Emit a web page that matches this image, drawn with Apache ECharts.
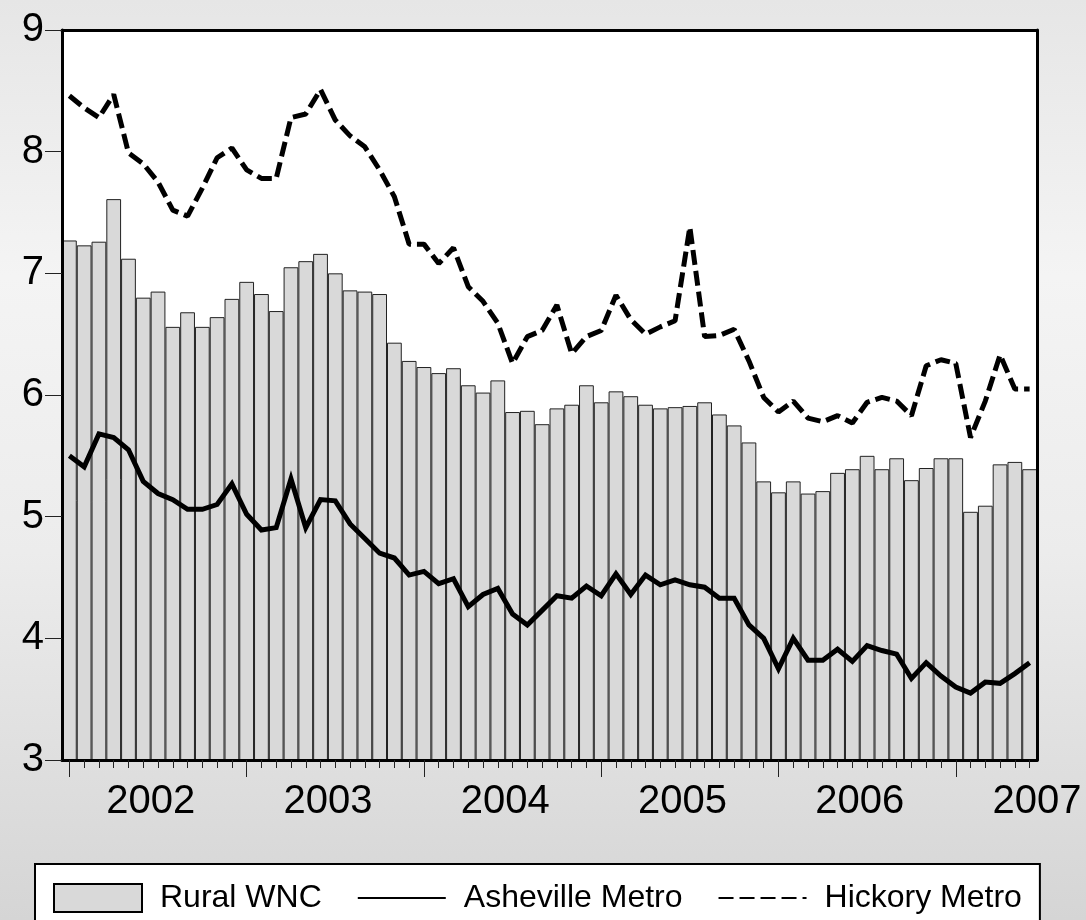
<!DOCTYPE html>
<html>
<head>
<meta charset="utf-8">
<script src="https://cdn.jsdelivr.net/npm/echarts@6/dist/echarts.min.js"></script>
<style>
    html, body { margin: 0; padding: 0; }
    #main { width: 1086px; height: 920px; }
</style>
</head>
<body>
<div id="main"></div>
<script>
    // monthly series, 2002M01 .. 2007M06
    var years = ['2002', '2003', '2004', '2005', '2006', '2007'];
    var monthNames = ['01', '02', '03', '04', '05', '06', '07', '08', '09', '10', '11', '12'];

    var rural = [
        7.27, 7.23, 7.26, 7.61, 7.12, 6.80, 6.85, 6.56, 6.68, 6.56, 6.64, 6.79,
        6.93, 6.83, 6.69, 7.05, 7.10, 7.16, 7.00, 6.86, 6.85, 6.83, 6.43, 6.28,
        6.23, 6.18, 6.22, 6.08, 6.02, 6.12, 5.86, 5.87, 5.76, 5.89, 5.92, 6.08,
        5.94, 6.03, 5.99, 5.92, 5.89, 5.90, 5.91, 5.94, 5.84, 5.75, 5.61, 5.29,
        5.20, 5.29, 5.19, 5.21, 5.36, 5.39, 5.50, 5.39, 5.48, 5.30, 5.40, 5.48,
        5.48, 5.04, 5.09, 5.43, 5.45, 5.39
    ];
    var asheville = [
        5.50, 5.41, 5.68, 5.65, 5.55, 5.29, 5.19, 5.14, 5.06, 5.06, 5.10, 5.27,
        5.02, 4.89, 4.91, 5.31, 4.91, 5.14, 5.13, 4.94, 4.82, 4.70, 4.66, 4.52,
        4.55, 4.45, 4.49, 4.26, 4.36, 4.41, 4.20, 4.11, 4.23, 4.35, 4.33, 4.43,
        4.35, 4.53, 4.36, 4.52, 4.44, 4.48, 4.44, 4.42, 4.33, 4.33, 4.11, 4.00,
        3.75, 4.00, 3.82, 3.82, 3.91, 3.81, 3.94, 3.90, 3.87, 3.67, 3.80, 3.69,
        3.60, 3.55, 3.64, 3.63, 3.71, 3.80
    ];
    var hickory = [
        8.46, 8.36, 8.28, 8.47, 7.99, 7.90, 7.75, 7.52, 7.47, 7.70, 7.95, 8.03,
        7.85, 7.78, 7.78, 8.28, 8.31, 8.51, 8.26, 8.13, 8.04, 7.85, 7.63, 7.24,
        7.24, 7.08, 7.21, 6.89, 6.77, 6.59, 6.26, 6.48, 6.53, 6.74, 6.34, 6.48,
        6.53, 6.82, 6.62, 6.50, 6.56, 6.61, 7.38, 6.48, 6.49, 6.54, 6.28, 5.98,
        5.86, 5.95, 5.81, 5.78, 5.83, 5.77, 5.94, 5.98, 5.95, 5.83, 6.24, 6.29,
        6.26, 5.65, 5.95, 6.33, 6.05, 6.05
    ];

    var categories = [];
    for (var i = 0; i < rural.length; i++) {
        categories.push(years[Math.floor(i / 12)] + 'M' + monthNames[i % 12]);
    }

    var font = 'Liberation Sans, Arial, sans-serif';
    var frame = { show: true, lineStyle: { color: '#000', width: 3 } };
    var noSymbol = { color: 'rgba(0,0,0,0)', borderWidth: 0, opacity: 0 };

    var myChart = echarts.init(document.getElementById('main'));
    var options = {
        animation: false,
        backgroundColor: new echarts.graphic.LinearGradient(0, 0, 0, 1, [
            { offset: 0, color: '#e6e6e6' },
            { offset: 0.3, color: '#f4f4f4' },
            { offset: 0.6, color: '#ececec' },
            { offset: 1, color: '#d5d5d5' }
        ]),
        grid: {
            left: 62,
            right: 49,
            top: 30,
            bottom: 160,
            show: true,
            backgroundColor: '#fff',
            borderWidth: 0
        },
        legend: {
            left: 35,
            top: 864,
            padding: [18, 18, 18, 18],
            backgroundColor: '#fff',
            borderColor: '#000',
            borderWidth: 2,
            itemWidth: 88,
            itemHeight: 28,
            itemGap: 35,
            selectedMode: false,
            textStyle: { fontSize: 32, fontFamily: font, color: '#000', padding: [0, 0, 0, 13] },
            data: [
                { name: 'Rural WNC', icon: 'rect', itemStyle: { color: '#d9d9d9', borderColor: '#000', borderWidth: 2 } },
                { name: 'Asheville Metro', lineStyle: { width: 2 }, itemStyle: noSymbol },
                { name: 'Hickory Metro', lineStyle: { width: 2, type: [15, 6] }, itemStyle: noSymbol }
            ]
        },
        xAxis: [
            {
                // minor (monthly) ticks + bottom frame
                type: 'category',
                data: categories,
                z: 10,
                axisLine: frame,
                axisTick: { show: true, interval: 0, alignWithLabel: true, length: 8, lineStyle: { color: '#222', width: 1 } },
                axisLabel: { show: false },
                splitLine: { show: false }
            },
            {
                // major (January) ticks and year labels
                type: 'category',
                data: categories,
                position: 'bottom',
                z: 10,
                axisLine: { show: false },
                axisTick: {
                    show: true, alignWithLabel: true, length: 17,
                    interval: function (idx) { return idx % 12 === 0; },
                    lineStyle: { color: '#222', width: 1 }
                },
                axisLabel: {
                    show: true,
                    interval: function (idx) { return idx % 12 === 5; },
                    formatter: function (v) { return v.slice(0, 4); },
                    fontSize: 40,
                    fontFamily: font,
                    color: '#000',
                    margin: 22,
                    padding: [0, 0, 0, 15]
                },
                splitLine: { show: false }
            },
            {
                // top frame
                type: 'category',
                data: categories,
                position: 'top',
                z: 10,
                axisLine: frame,
                axisTick: { show: false },
                axisLabel: { show: false }
            }
        ],
        yAxis: [
            {
                type: 'value',
                min: 3,
                max: 9,
                interval: 1,
                z: 10,
                axisLine: frame,
                axisTick: { show: true, length: 17, lineStyle: { color: '#222', width: 1 } },
                axisLabel: { fontSize: 40, fontFamily: font, color: '#000', margin: 18 },
                splitLine: { show: false }
            },
            {
                type: 'value',
                min: 3,
                max: 9,
                interval: 1,
                position: 'right',
                z: 10,
                axisLine: frame,
                axisTick: { show: false },
                axisLabel: { show: false },
                splitLine: { show: false }
            }
        ],
        series: [
            {
                name: 'Rural WNC',
                type: 'bar',
                barCategoryGap: '0%',
                itemStyle: { color: '#d9d9d9', borderColor: '#222', borderWidth: 1 },
                data: rural
            },
            {
                name: 'Asheville Metro',
                type: 'line',
                symbol: 'none',
                z: 5,
                lineStyle: { color: '#000', width: 5, join: 'miter' },
                itemStyle: { color: '#000' },
                data: asheville
            },
            {
                name: 'Hickory Metro',
                type: 'line',
                symbol: 'none',
                z: 5,
                lineStyle: { color: '#000', width: 5, type: [15, 6] },
                itemStyle: { color: '#000' },
                data: hickory
            }
        ]
    };
    myChart.setOption(options);
</script>
</body>
</html>
